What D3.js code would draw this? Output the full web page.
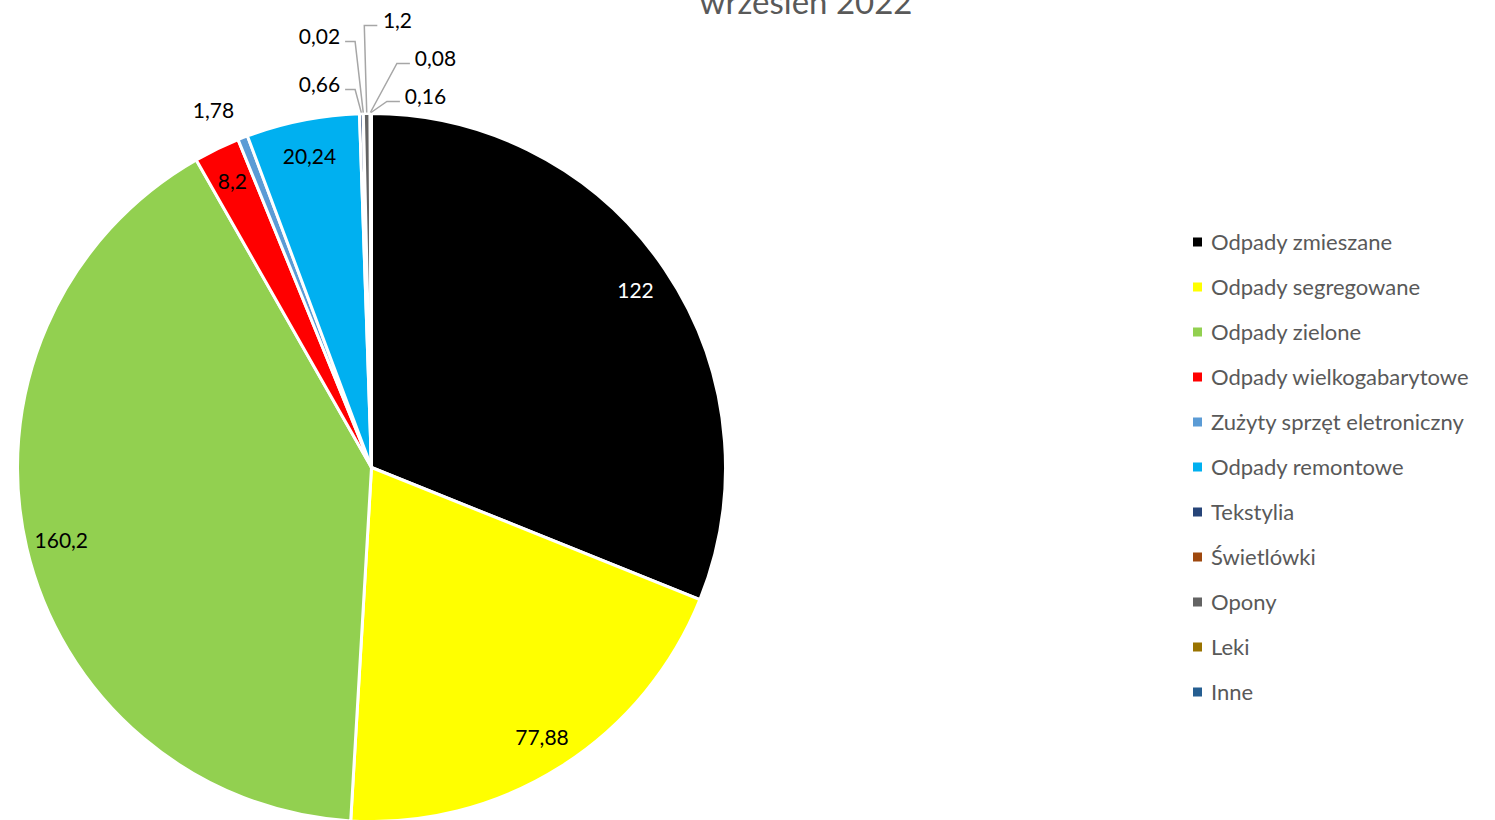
<!DOCTYPE html>
<html>
<head>
<meta charset="utf-8">
<script src="https://cdn.jsdelivr.net/npm/d3@7"></script>
<style>
  html, body { margin: 0; padding: 0; background: #fff; overflow: hidden; }
  svg { display: block; font-family: Lato, "Open Sans", sans-serif; }
</style>
</head>
<body>
<svg id="chart" width="1495" height="820"></svg>
<script>
const categories = [
  "Odpady zmieszane", "Odpady segregowane", "Odpady zielone", "Odpady wielkogabarytowe",
  "Zużyty sprzęt eletroniczny", "Odpady remontowe", "Tekstylia", "Świetlówki",
  "Opony", "Leki", "Inne"
];
const values = [122, 77.88, 160.2, 8.2, 1.78, 20.24, 0.66, 0.02, 1.2, 0.08, 0.16];
const colors = [
  "#000000", "#ffff00", "#92d050", "#ff0000", "#5b9bd5", "#00b0f0",
  "#264478", "#9e480e", "#636363", "#997300", "#255e91"
];
const title = "wrzesień 2022";

// where the small slices put their labels (offset from pie centre), null = inside
const labelSpots = [
  null, null, null, null,
  { dx: -158, dy: -358, leader: false },
  null,
  { dx: -52, dy: -384, leader: true, side: "left" },
  { dx: -52, dy: -432, leader: true, side: "left" },
  { dx: 26, dy: -448, leader: true, side: "right" },
  { dx: 64, dy: -410, leader: true, side: "right" },
  { dx: 54, dy: -372, leader: true, side: "right" }
];

const svg = d3.select("#chart");
const cx = 371.5, cy = 467.5, R = 354;
const fmt = v => String(v).replace(".", ",");

svg.append("text")
  .attr("x", 806).attr("y", 14)
  .attr("text-anchor", "middle")
  .attr("font-size", "33px").attr("fill", "#595959")
  .text(title);

const pie = d3.pie().sort(null).value(d => d)
  .startAngle(0).endAngle(2 * Math.PI);
const arcs = pie(values);
const arc = d3.arc().innerRadius(0).outerRadius(R);
const labelArc = d3.arc().innerRadius(R * 0.9).outerRadius(R * 0.9);

const g = svg.append("g").attr("transform", `translate(${cx},${cy})`);

g.selectAll("path.slice")
  .data(arcs)
  .join("path")
  .attr("class", "slice")
  .attr("d", arc)
  .attr("fill", (d, i) => colors[i])
  .attr("stroke", "#fff")
  .attr("stroke-width", 3)
  .attr("stroke-linejoin", "round");

// labels
arcs.forEach((d, i) => {
  const spot = labelSpots[i];
  const txt = fmt(values[i]);
  if (!spot) {
    const [x, y] = labelArc.centroid(d);
    g.append("text")
      .attr("x", x).attr("y", y)
      .attr("text-anchor", "middle").attr("dominant-baseline", "central")
      .attr("font-size", "21px").attr("fill", i === 0 ? "#fff" : "#000")
      .text(txt);
    return;
  }
  g.append("text")
    .attr("x", spot.dx).attr("y", spot.dy)
    .attr("text-anchor", "middle").attr("dominant-baseline", "central")
    .attr("font-size", "21px").attr("fill", "#000")
    .text(txt);
  if (spot.leader) {
    const mid = (d.startAngle + d.endAngle) / 2;
    const ex = Math.sin(mid) * (R + 1), ey = -Math.cos(mid) * (R + 1);
    const w = txt.length * 5.4 + 4;
    const lx = spot.side === "left" ? spot.dx + w : spot.dx - w;
    const kx = spot.side === "left" ? lx + 10 : lx - 13;
    g.append("path")
      .attr("d", d3.line()([[lx, spot.dy + 6], [kx, spot.dy + 6], [ex, ey]]))
      .attr("fill", "none").attr("stroke", "#a6a6a6").attr("stroke-width", 1.5);
  }
});

// legend
const legend = svg.append("g").attr("transform", "translate(1193,242)");
const rows = legend.selectAll("g")
  .data(categories)
  .join("g")
  .attr("transform", (d, i) => `translate(0,${i * 45})`);
rows.append("rect")
  .attr("x", 0).attr("y", -4.5).attr("width", 9).attr("height", 9)
  .attr("fill", (d, i) => colors[i]);
rows.append("text")
  .attr("x", 18).attr("y", -1)
  .attr("dominant-baseline", "central")
  .attr("font-size", "22px").attr("fill", "#595959")
  .text(d => d);
</script>
</body>
</html>
